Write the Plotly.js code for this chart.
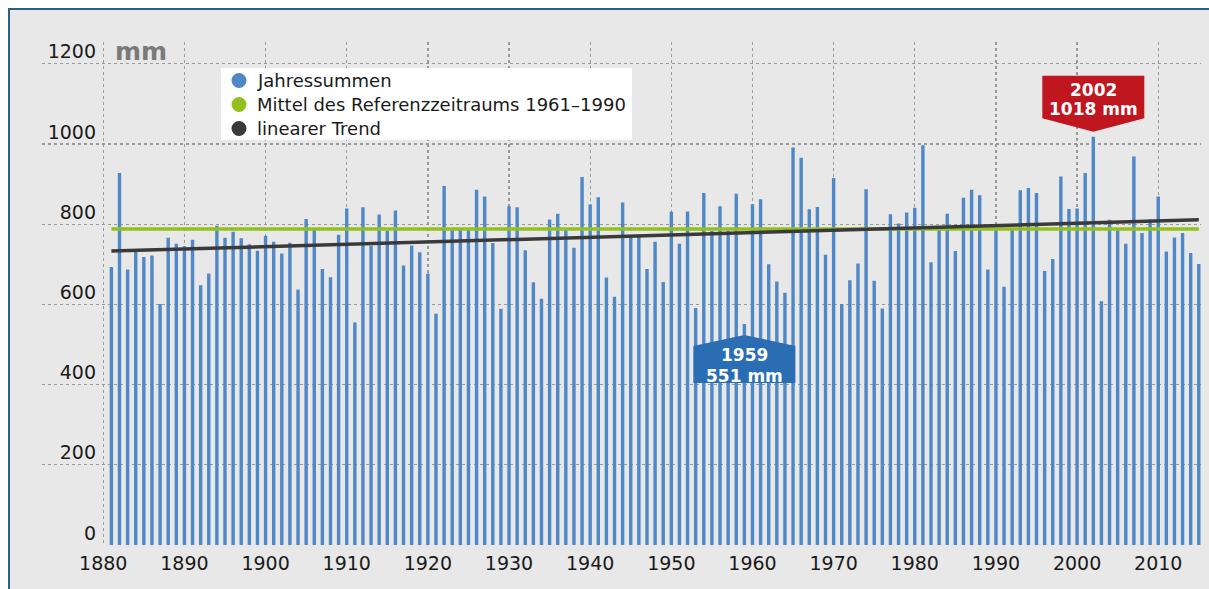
<!DOCTYPE html>
<html>
<head>
<meta charset="utf-8">
<script src="https://cdn.plot.ly/plotly-3.0.1.min.js"></script>
<style>
html,body{margin:0;padding:0;background:#ffffff;width:1209px;height:589px;overflow:hidden;}
#frame{position:absolute;left:8px;top:8px;width:1201px;height:581px;box-sizing:border-box;border-top:2px solid #2f5f7c;border-left:2px solid #2f5f7c;background:#e8e8e8;}
#chart{position:absolute;left:10px;top:10px;width:1199px;height:579px;}
</style>
</head>
<body>
<div id="frame"></div>
<div id="chart"></div>
<script>
// Years (categories)
const years = [
1881,1882,1883,1884,1885,1886,1887,1888,1889,1890,
1891,1892,1893,1894,1895,1896,1897,1898,1899,1900,
1901,1902,1903,1904,1905,1906,1907,1908,1909,1910,
1911,1912,1913,1914,1915,1916,1917,1918,1919,1920,
1921,1922,1923,1924,1925,1926,1927,1928,1929,1930,
1931,1932,1933,1934,1935,1936,1937,1938,1939,1940,
1941,1942,1943,1944,1945,1946,1947,1948,1949,1950,
1951,1952,1953,1954,1955,1956,1957,1958,1959,1960,
1961,1962,1963,1964,1965,1966,1967,1968,1969,1970,
1971,1972,1973,1974,1975,1976,1977,1978,1979,1980,
1981,1982,1983,1984,1985,1986,1987,1988,1989,1990,
1991,1992,1993,1994,1995,1996,1997,1998,1999,2000,
2001,2002,2003,2004,2005,2006,2007,2008,2009,2010,
2011,2012,2013,2014,2015];

// Jahressummen (mm)
const annualSums = [
693,928,687,733,718,722,601,766,751,745,
761,648,677,796,766,781,765,750,734,771,
756,727,754,637,813,786,688,668,774,839,
555,842,746,824,783,834,697,747,730,677,
577,895,786,786,786,886,869,753,589,845,
842,735,655,614,812,826,786,741,918,849,
867,667,619,854,771,770,688,756,656,831,
751,832,591,878,783,845,783,876,551,850,
862,700,657,629,991,966,837,843,724,915,
601,660,702,887,659,590,825,802,829,841,
997,705,787,826,733,866,886,872,687,790,
644,786,885,890,878,683,713,919,838,839,
928,1018,608,811,785,751,969,778,812,869,
732,767,778,728,701];

// Mittel des Referenzzeitraums 1961–1990 (mm)
const refMeanYears = [1881, 2015];
const refMeanValues = [788, 788];

// linearer Trend (endpoints)
const trendYears = [1881, 2015];
const trendValues = [733, 811];

// Axis ticks
const xTicks = [1880,1890,1900,1910,1920,1930,1940,1950,1960,1970,1980,1990,2000,2010];
const yTicks = [0,200,400,600,800,1000,1200];

// Legend entries
const legendNames = ['Jahressummen','Mittel des Referenzzeitraums 1961\u20131990','linearer Trend'];

const BLUE = '#4f87c7', GREEN = '#93c01f', DARK = '#3a3a3a';
const legendColors = [BLUE, GREEN, DARK];

// extremes
let iMax = 0, iMin = 0;
annualSums.forEach((v,i)=>{ if(v>annualSums[iMax]) iMax=i; if(v<annualSums[iMin]) iMin=i; });

const traces = [
  {type:'bar', x:years, y:annualSums, width:0.42, marker:{color:BLUE}, name:legendNames[0], hoverinfo:'x+y'},
  {type:'scatter', mode:'lines', x:refMeanYears, y:refMeanValues, line:{color:GREEN,width:3.5}, name:legendNames[1]},
  {type:'scatter', mode:'lines', x:trendYears, y:trendValues, line:{color:DARK,width:3.5}, name:legendNames[2]}
];

const gridStyle = {showgrid:true, gridcolor:'#999999', griddash:'dot', gridwidth:1.3, zeroline:false, showline:false, ticks:''};

// plot area geometry (for legend placement in paper units)
const W = 1199, H = 579, ML = 32, MR = 8, MT = 32, MB = 44;
const PW = W - ML - MR, PH = H - MT - MB;
const px = v => (v - 10 - ML) / PW;          // page x -> paper x
const py = v => 1 - (v - 10 - MT) / PH;      // page y -> paper y

const legendRowsY = [80.5, 104.5, 128.5];
const shapes = [
  {type:'path', xref:'x', yref:'y', xsizemode:'pixel', ysizemode:'pixel',
   xanchor:years[iMax], yanchor:annualSums[iMax],
   path:'M -51 18.5 L -51 61 L 51 61 L 51 18.5 L 0 5 Z',
   fillcolor:'#c0161f', line:{width:0}, layer:'above'},
  {type:'path', xref:'x', yref:'y', xsizemode:'pixel', ysizemode:'pixel',
   xanchor:years[iMin], yanchor:annualSums[iMin],
   path:'M -51 -22 L 0 -11 L 51 -22 L 51 -59 L -51 -59 Z',
   fillcolor:'#2b6db3', line:{width:0}, layer:'above'},
  {type:'rect', xref:'paper', yref:'paper', x0:px(221), x1:px(632), y0:py(140), y1:py(68),
   fillcolor:'#ffffff', line:{width:0}, layer:'above'}
];
const annotations = [
  {xref:'paper', yref:'paper', x:px(113), y:py(51), xanchor:'left', yanchor:'middle', showarrow:false,
   text:'<b>mm</b>', font:{size:25, color:'#7a7a7a'}},
  {x:years[iMax], y:annualSums[iMax], yshift:47, showarrow:false, text:'<b>'+years[iMax]+'</b>', font:{size:17,color:'#ffffff'}},
  {x:years[iMax], y:annualSums[iMax], yshift:27.5, showarrow:false, text:'<b>'+annualSums[iMax]+' mm</b>', font:{size:17,color:'#ffffff'}},
  {x:years[iMin], y:annualSums[iMin], yshift:-31, showarrow:false, text:'<b>'+years[iMin]+'</b>', font:{size:17,color:'#ffffff'}},
  {x:years[iMin], y:annualSums[iMin], yshift:-51.5, showarrow:false, text:'<b>'+annualSums[iMin]+' mm</b>', font:{size:17,color:'#ffffff'}}
];
legendNames.forEach((name,i)=>{
  shapes.push({type:'circle', xref:'paper', yref:'paper', xsizemode:'pixel', ysizemode:'pixel',
    xanchor:px(239), yanchor:py(legendRowsY[i]), x0:-7.5, x1:7.5, y0:-7.5, y1:7.5,
    fillcolor:legendColors[i], line:{width:0}, layer:'above'});
  annotations.push({xref:'paper', yref:'paper', x:px(255), y:py(legendRowsY[i]), xanchor:'left', yanchor:'middle',
    showarrow:false, text:name, font:{size:18, color:'#1a1a1a'}});
});

const layout = {
  width:W, height:H,
  margin:{l:ML, r:MR, t:MT, b:MB, pad:0},
  paper_bgcolor:'#e8e8e8', plot_bgcolor:'#e8e8e8',
  font:{family:'DejaVu Sans', color:'#1a1a1a'},
  showlegend:false,
  xaxis:Object.assign({range:[1872.45, 2015.27], tickmode:'array', tickvals:xTicks, ticktext:xTicks.map(String),
          tickfont:{size:19, color:'#1a1a1a'}, ticklabelstandoff:5}, gridStyle),
  yaxis:Object.assign({range:[0, 1254.4], tickmode:'array', tickvals:yTicks, ticktext:yTicks.map(String),
          anchor:'free', position:0.0466, tickfont:{size:19, color:'#1a1a1a'}, ticklabelshift:-12}, gridStyle),
  shapes:shapes,
  annotations:annotations
};

Plotly.newPlot('chart', traces, layout, {displayModeBar:false, staticPlot:true});
</script>
</body>
</html>
